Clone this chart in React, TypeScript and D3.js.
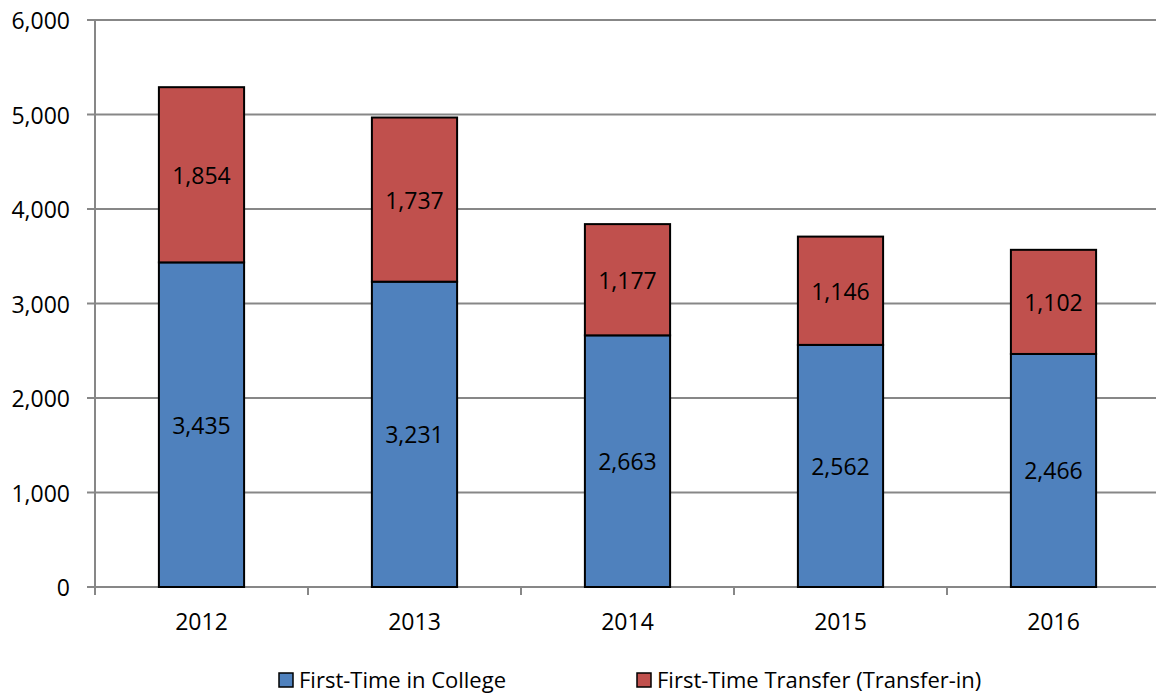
import React from "react";
import * as d3 from "d3";

const years = ["2012", "2013", "2014", "2015", "2016"];
const firstTimeInCollege = [3435, 3231, 2663, 2562, 2466];
const firstTimeTransfer = [1854, 1737, 1177, 1146, 1102];
const yTicks = [0, 1000, 2000, 3000, 4000, 5000, 6000];
const seriesNames = ["First-Time in College", "First-Time Transfer (Transfer-in)"];
const colors = ["#4F81BD", "#C0504D"];

const W = 1156;
const H = 694;
const FONT = "'Open Sans', sans-serif";

export default function App() {
  const x = d3.scaleBand<string>().domain(years).range([95, 1160]).paddingInner(0.6).paddingOuter(0.3);
  const y = d3.scaleLinear().domain([0, 6000]).range([587, 20]);
  const band = (1160 - 95) / years.length;
  const fmt = d3.format(",");

  const rows = years.map((yr, i) => ({ year: yr, a: firstTimeInCollege[i], b: firstTimeTransfer[i] }));
  const stack = d3.stack<any>().keys(["a", "b"])(rows);

  return (
    <svg width={W} height={H} style={{ position: "absolute", left: 0, top: 0, background: "#fff" }} fontFamily={FONT}>
      {yTicks.map((t) => (
        <g key={t}>
          {t > 0 && <line x1={95} x2={W} y1={y(t)} y2={y(t)} stroke="#878787" strokeWidth={2} />}
          <line x1={87} x2={95} y1={y(t)} y2={y(t)} stroke="#878787" strokeWidth={2} />
          <text x={70} y={y(t)} textAnchor="end" dominantBaseline="central" fontSize={23} fill="#000">
            {fmt(t)}
          </text>
        </g>
      ))}
      <line x1={95} x2={95} y1={y(6000)} y2={y(0)} stroke="#878787" strokeWidth={2} />
      <line x1={87} x2={W} y1={y(0)} y2={y(0)} stroke="#878787" strokeWidth={2} />
      {years.map((yr, i) => (
        <line key={yr} x1={95 + band * i} x2={95 + band * i} y1={y(0)} y2={y(0) + 8} stroke="#878787" strokeWidth={2} />
      ))}
      {stack.map((s, si) =>
        s.map((d, i) => (
          <g key={`${si}-${i}`}>
            <rect
              x={x(years[i])!}
              width={x.bandwidth()}
              y={y(d[1])}
              height={y(d[0]) - y(d[1])}
              fill={colors[si]}
              stroke="#000"
              strokeWidth={2}
            />
            <text
              x={x(years[i])! + x.bandwidth() / 2}
              y={(y(d[0]) + y(d[1])) / 2}
              textAnchor="middle"
              dominantBaseline="central"
              fontSize={23}
              fill="#000"
            >
              {fmt(d[1] - d[0])}
            </text>
          </g>
        ))
      )}
      {years.map((yr) => (
        <text key={yr} x={x(yr)! + x.bandwidth() / 2} y={621} textAnchor="middle" dominantBaseline="central" fontSize={23} fill="#000">
          {yr}
        </text>
      ))}
      {seriesNames.map((n, i) => {
        const lx = i === 0 ? 279 : 637;
        return (
          <g key={n}>
            <rect x={lx} y={673} width={14} height={14} fill={colors[i]} stroke="#000" strokeWidth={1.5} />
            <text x={lx + 20} y={679} dominantBaseline="central" fontSize={22} fill="#000">
              {n}
            </text>
          </g>
        );
      })}
    </svg>
  );
}
